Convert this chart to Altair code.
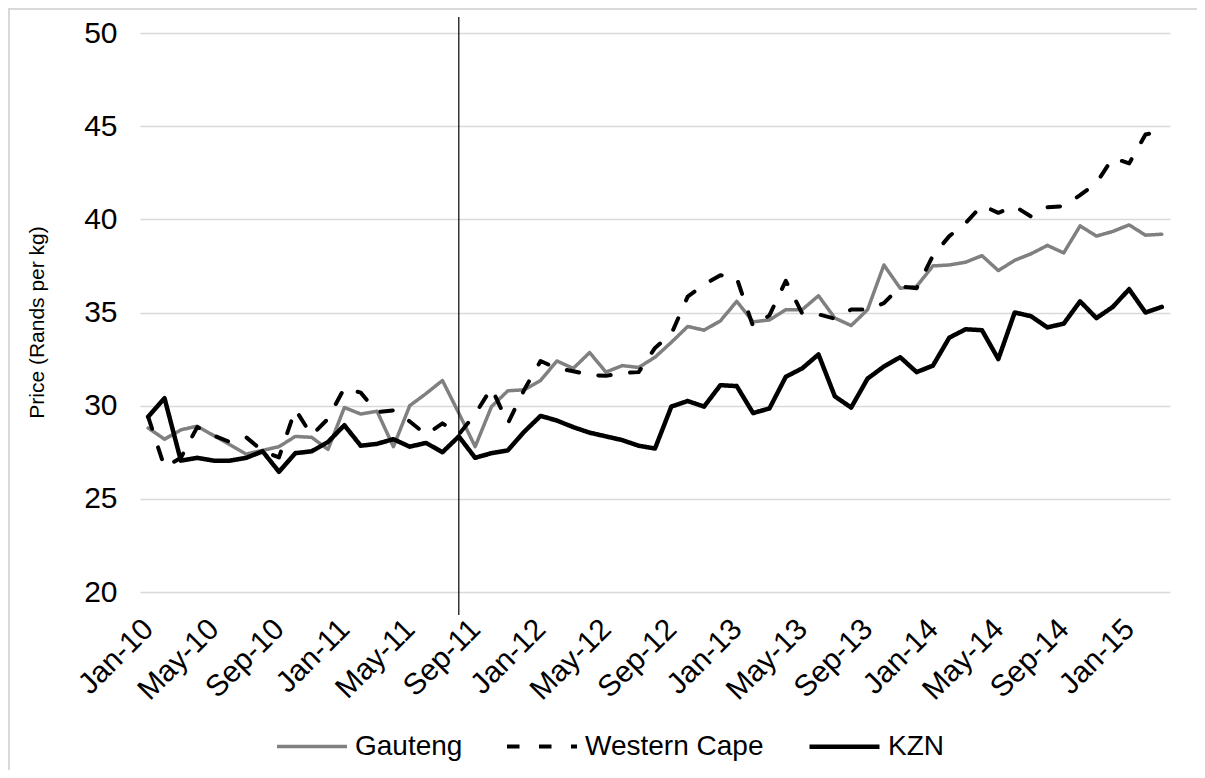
import altair as alt
import pandas as pd

# ---- data -------------------------------------------------------------
month_names = ["Jan", "Feb", "Mar", "Apr", "May", "Jun",
               "Jul", "Aug", "Sep", "Oct", "Nov", "Dec"]
months = [f"{m}-{y}" for y in range(10, 16) for m in month_names][:63]  # Jan-10 .. Mar-15

series_names = ["Gauteng", "Western Cape", "KZN"]

gauteng = [28.8, 28.2, 28.7, 28.9, 28.4, 27.9, 27.4, 27.6, 27.8, 28.35,
           28.3, 27.65, 29.9, 29.55, 29.7, 27.8, 30.0, 30.65, 31.35, 29.6,
           27.8, 29.95, 30.8, 30.85, 31.35, 32.4, 32.0, 32.85, 31.8, 32.15,
           32.05, 32.6, 33.4, 34.25, 34.05, 34.55, 35.6, 34.5, 34.6, 35.15,
           35.15, 35.9, 34.7, 34.3, 35.15, 37.55, 36.3, 36.4, 37.5, 37.55,
           37.7, 38.05, 37.25, 37.8, 38.15, 38.6, 38.2, 39.65, 39.1, 39.35,
           39.7, 39.15, 39.2]

western_cape = [29.4, 26.7, 27.2, 28.85, 28.4, 28.05, 28.3, 27.57, 27.22, 29.8,
                28.4, 29.3, 30.95, 30.7, 29.65, 29.75, 29.15, 28.45, 29.05, 28.45,
                29.55, 30.95, 29.05, 30.85, 32.4, 32.0, 31.85, 31.65, 31.6, 31.75,
                31.8, 33.1, 33.85, 35.85, 36.5, 37.0, 36.85, 34.25, 34.85, 36.7,
                34.95, 34.9, 34.67, 35.16, 35.16, 35.5, 36.4, 36.3, 38.05, 39.1,
                39.8, 40.75, 40.35, 40.7, 40.15, 40.65, 40.7, 41.3, 41.95, 43.3,
                43.0, 44.55, 44.75]

kzn = [29.4, 30.4, 27.05, 27.2, 27.05, 27.05, 27.2, 27.55, 26.45, 27.45,
       27.55, 28.05, 28.95, 27.85, 27.95, 28.2, 27.8, 28.0, 27.5, 28.35,
       27.2, 27.45, 27.6, 28.6, 29.45, 29.2, 28.85, 28.55, 28.35, 28.15,
       27.85, 27.7, 29.95, 30.25, 29.95, 31.1, 31.05, 29.6, 29.85, 31.55,
       32.0, 32.75, 30.5, 29.9, 31.45, 32.1, 32.6, 31.8, 32.15, 33.65,
       34.1, 34.05, 32.5, 35.0, 34.8, 34.2, 34.4, 35.6, 34.7, 35.3,
       36.25, 35.0, 35.3]

marker_month = ["Aug-11"]
y_ticks = [20, 25, 30, 35, 40, 45, 50]
x_tick_labels = months[::4]

rows = []
for name, vals in zip(series_names, [gauteng, western_cape, kzn]):
    for m, v in zip(months, vals):
        rows.append({"month": m, "price": v, "series": name})
df = pd.DataFrame(rows)

# ---- chart ------------------------------------------------------------
FONT = "Liberation Sans"
W, H = 1030, 559

x_scale = alt.Scale(type="point", domain=months, padding=0.5)

legend = alt.Legend(
    title=None, orient="none", legendX=135, legendY=676, direction="horizontal",
    symbolType="stroke", symbolSize=4900, symbolStrokeWidth=4,
    labelFontSize=28, labelFont=FONT, labelColor="#000000", labelOffset=6,
    columnPadding=36, padding=0, labelLimit=400,
)

lines = alt.Chart(df).mark_line(strokeCap="round", strokeJoin="round").encode(
    x=alt.X("month:O", scale=x_scale, sort=months,
            axis=alt.Axis(values=x_tick_labels, labelAngle=-45, labelAlign="right",
                          labelBaseline="middle", labelFontSize=30, labelPadding=32,
                          labelFont=FONT, labelColor="#000000", labelOverlap=False,
                          ticks=False, domain=False, grid=False, title=None)),
    y=alt.Y("price:Q", scale=alt.Scale(domain=[20, 50], nice=False, zero=False),
            axis=alt.Axis(values=y_ticks, grid=True, gridColor="#d9d9d9", gridWidth=1.3,
                          domain=False, ticks=False, labelFontSize=30, labelFont=FONT,
                          labelColor="#000000", labelPadding=23,
                          title="Price (Rands per kg)", titleFont=FONT, titleFontSize=21,
                          titleFontWeight="normal", titleColor="#000000",
                          titleAngle=-90, titleX=-103, titleY=289,
                          titleAlign="center", titleBaseline="middle")),
    color=alt.Color("series:N", sort=series_names,
                    scale=alt.Scale(domain=series_names,
                                    range=["#808080", "#000000", "#000000"]),
                    legend=legend),
    strokeDash=alt.StrokeDash("series:N", sort=series_names,
                              scale=alt.Scale(domain=series_names,
                                              range=[[1, 0], [12.5, 19.5], [1, 0]]),
                              legend=legend),
    strokeWidth=alt.StrokeWidth("series:N",
                                scale=alt.Scale(domain=series_names,
                                                range=[3.5, 4.5, 3.5]),
                                legend=None),
)

marker = alt.Chart(pd.DataFrame({"month": marker_month})).mark_rule(
    color="#000000", strokeWidth=1.2
).encode(
    x=alt.X("month:O", scale=x_scale, sort=months),
    y=alt.value(-16),
    y2=alt.value(H + 23),
)

border_left = alt.Chart(pd.DataFrame({"a": [0]})).mark_rule(
    color="#d9d9d9", strokeWidth=2
).encode(x=alt.value(-131), y=alt.value(-24), y2=alt.value(H + 200))

border_top = alt.Chart(pd.DataFrame({"a": [0]})).mark_rule(
    color="#d9d9d9", strokeWidth=2
).encode(x=alt.value(-132), x2=alt.value(W + 40), y=alt.value(-24))

chart = alt.layer(border_left, border_top, lines, marker).properties(
    width=W, height=H,
    autosize=alt.AutoSizeParams(type="none"),
    padding={"left": 132, "top": 25, "right": 27, "bottom": 178},
).configure_view(stroke=None)

chart.save("out.html", embed_options={"renderer": "svg", "actions": False})
